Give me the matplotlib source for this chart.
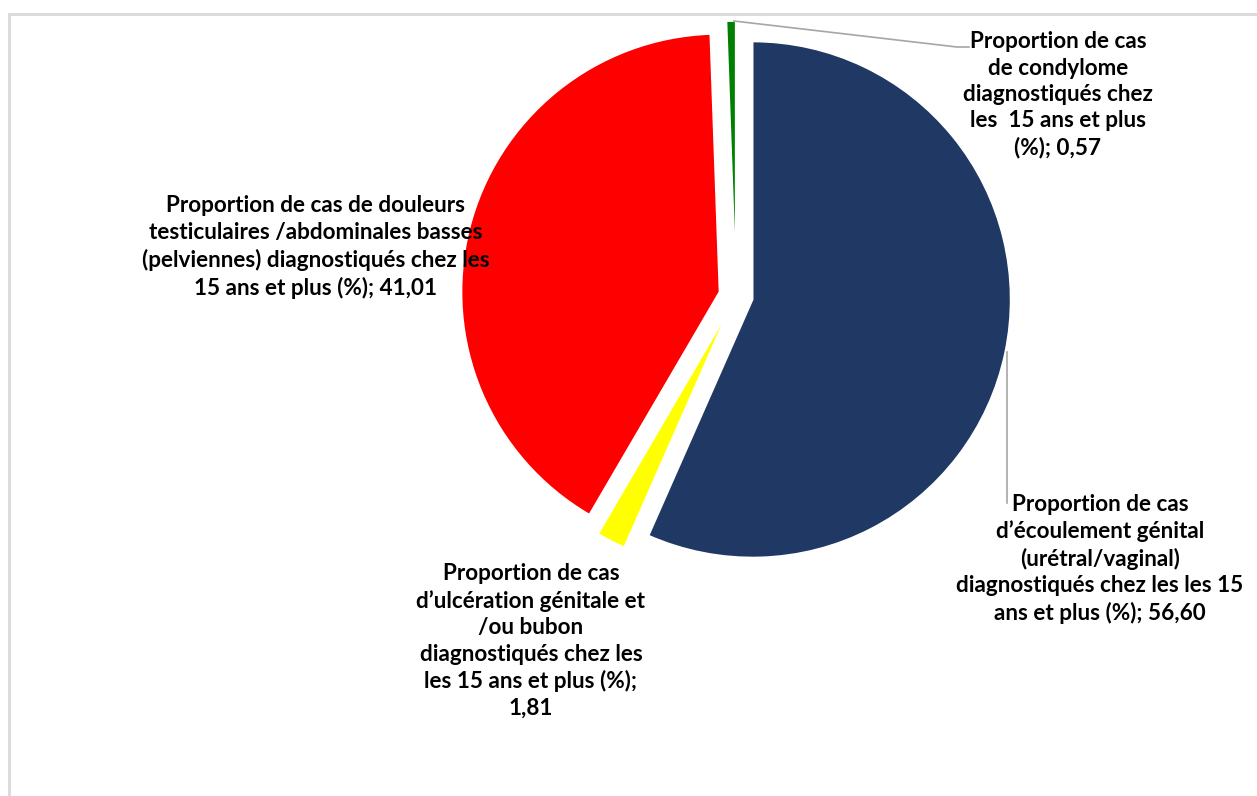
import matplotlib.pyplot as plt
from matplotlib.patches import Rectangle

# data
labels = [
    "Proportion de cas\nd\u2019écoulement génital\n(urétral/vaginal)\ndiagnostiqués chez les les 15\nans et plus (%); 56,60",
    "Proportion de cas\nd\u2019ulcération génitale et\n/ou bubon\ndiagnostiqués chez les\nles 15 ans et plus (%);\n1,81",
    "Proportion de cas de douleurs\ntesticulaires /abdominales basses\n(pelviennes) diagnostiqués chez les\n15 ans et plus (%); 41,01",
    "Proportion de cas\nde condylome\ndiagnostiqués chez\nles  15 ans et plus\n(%); 0,57",
]
values = [56.60, 1.81, 41.01, 0.57]
colors = ["#203864", "#ffff00", "#ff0000", "#008000"]

W, H = 1257, 796
fig = plt.figure(figsize=(W / 100, H / 100), dpi=100)
ax = fig.add_axes([0, 0, 1, 1])
ax.axis("off")

def py(y):
    # pixel row (from top) -> data y
    return H - y

# chart frame (light grey border running off right/bottom)
ax.add_patch(Rectangle((8.5, -5), W, py(13.5) + 5, fill=False,
                       edgecolor="#d9d9d9", linewidth=2))

cx, cy, r = 736, 296, 258
ax.pie(values, colors=colors, startangle=90, counterclock=False,
       center=(cx, py(cy)), radius=r, explode=[17] * 4,
       wedgeprops=dict(edgecolor="white", linewidth=1.2))
ax.set_xlim(0, W)
ax.set_ylim(0, H)
ax.set_aspect("auto")

font = dict(family=["Lato", "DejaVu Sans"], fontweight="bold", fontsize=16.2,
            color="black", ha="center", va="center", multialignment="center",
            linespacing=1.32)

# label positions (pixel centers)
pos = [(1100, 559), (531, 641), (316, 247), (1058, 95)]
for lab, (x, y) in zip(labels, pos):
    ax.text(x, py(y), lab, **font)

# leader lines
ax.plot([1007, 1007], [py(352), py(503)], color="#a6a6a6", lw=1.2)
ax.plot([734, 957, 969], [py(21), py(47), py(47)], color="#a6a6a6", lw=1.2)

fig.savefig("out.png", dpi=100)
